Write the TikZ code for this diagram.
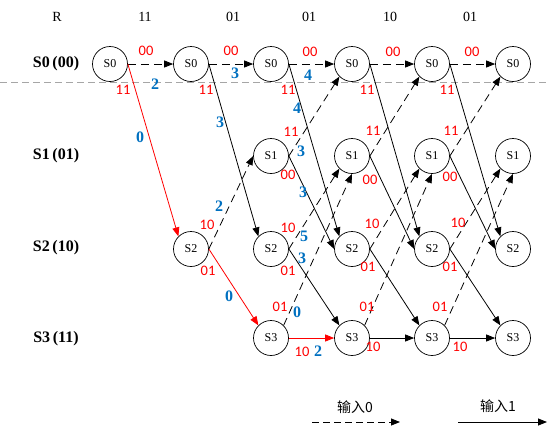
\documentclass[tikz,border=0pt]{standalone}
\usepackage{fontspec}
\setmainfont{Liberation Serif}
\newfontfamily\cjk{Noto Sans CJK SC}
\newfontfamily\calib{Carlito}
\usetikzlibrary{arrows.meta}
\definecolor{myblue}{HTML}{0070C0}
\definecolor{myred}{HTML}{FF0000}
\definecolor{mygray}{HTML}{A6A6A6}
\begin{document}
\begin{tikzpicture}[x=1pt,y=-1pt,
  st/.style={circle,draw,line width=0.7pt,minimum size=35pt,inner sep=0pt,font=\fontsize{12}{12}\selectfont},
  eone/.style={line width=0.8pt,-{Triangle[length=9pt,width=7pt]}},
  ezero/.style={eone,dash pattern=on 8pt off 5pt},
  hot/.style={draw=myred,color=myred},
  ol/.style={text=myred,font=\calib\fontsize{14.5}{14.5}\selectfont,inner sep=0pt},
  pm/.style={text=myblue,font=\bfseries\fontsize{16}{16}\selectfont,inner sep=0pt},
  hd/.style={font=\fontsize{14}{14}\selectfont,inner sep=0pt},
  rl/.style={font=\bfseries\fontsize{16}{16}\selectfont,inner sep=0pt},
  lg/.style={font=\cjk\fontsize{14}{14}\selectfont,inner sep=0pt}
]
\useasboundingbox (0,0) rectangle (547,432);
% separator
\coordinate (g1) at (0,82);
\coordinate (g2) at (547,82);
\draw[mygray,line width=0.8pt,dash pattern=on 7pt off 4pt] (g1) -- (g2);
% header
\node[hd] (hR) at (57,17) {R};
\foreach[count=\k] \x/\t in {145/11,233/01,309/01,390/10,470/01}
  \node[hd] (h\k) at (\x,17) {\t};
% row labels
\node[rl] (rs0) at (56,64) {S0\,(00)};
\node[rl] (rs1) at (56,156) {S1\,(01)};
\node[rl] (rs2) at (56,248) {S2\,(10)};
\node[rl] (rs3) at (56,339) {S3\,(11)};
% states
\foreach \c/\x in {1/110,2/191,3/271,4/352,5/432,6/513}
  \node[st] (a\c) at (\x,64) {S0};
\foreach \c/\x in {3/271,4/352,5/432,6/513}
  \node[st] (b\c) at (\x,156) {S1};
\foreach \c/\x in {2/191,3/271,4/352,5/432,6/513}
  \node[st] (c\c) at (\x,249) {S2};
\foreach \c/\x in {3/271,4/352,5/432,6/513}
  \node[st] (d\c) at (\x,338) {S3};
% S0 -> S0
\foreach \i/\j in {1/2,2/3,3/4,4/5,5/6}
  \draw[ezero] (a\i.east) -- (a\j.west);
% S0 -> S2
\draw[eone,hot] (a1.east) -- (c2.north west);
\foreach \i/\j in {2/3,3/4,4/5,5/6}
  \draw[eone] (a\i.east) -- (c\j.north west);
% S1 -> S0 and S1 -> S2
\foreach \i/\j in {3/4,4/5,5/6}{
  \draw[ezero] (b\i.east) -- (a\j.south west);
  \draw[eone] (b\i.east) -- (c\j.west);
}
% S2 -> S1
\draw[ezero] (c2.east) -- (b3.west);
\foreach \i/\j in {3/4,4/5,5/6}
  \draw[ezero] (c\i.east) -- (b\j.south west);
% S2 -> S3
\draw[eone,hot] (c2.east) -- (d3.north west);
\foreach \i/\j in {3/4,4/5,5/6}
  \draw[eone] (c\i.east) -- (d\j.north west);
% S3 -> S1
\foreach \i/\j in {3/4,4/5,5/6}
  \draw[ezero] (d\i.north east) -- (b\j.south);
% S3 -> S3
\draw[eone,hot] (d3.east) -- (d4.west);
\foreach \i/\j in {4/5,5/6}
  \draw[eone] (d\i.east) -- (d\j.west);
% output labels
\foreach[count=\k] \x/\y/\t in {146/51/00,231/51/00,310/52/00,393/52/00,472/52/00,
  123/90/11,206/90/11,288/90/11,367/90/11,447/90/11,
  291/132/11,373/131/11,451/131/11,
  288/175/00,370/180/00,450/177/00,
  207/225/10,288/228/10,372/224/10,458/223/10,
  208/271/01,288/271/01,368/267/01,450/267/01,
  280/307/01,367/307/01,440/307/01,
  302/352/10,373/347/10,460/347/10}
  \node[ol] (o\k) at (\x,\y) {\t};
% path metrics
\foreach[count=\k] \x/\y/\t in {155/84/2,140/137/0,235/73/3,220/122/3,219/206/2,229/296/0,
  308/75/4,297/108/4,301/151/3,303/192/3,304/236/5,302/258/3,297/312/0,318/351/2}
  \node[pm] (m\k) at (\x,\y) {\t};
% legend
\node[lg] (lz) at (355,407) {输入0};
\node[lg] (lo) at (498,406) {输入1};
\coordinate (lza) at (312,422);
\coordinate (lzb) at (400,422);
\coordinate (loa) at (458,422);
\coordinate (lob) at (547,422);
\draw[ezero,dash pattern=on 7pt off 4pt] (lza) -- (lzb);
\draw[eone] (loa) -- (lob);
\end{tikzpicture}
\end{document}
